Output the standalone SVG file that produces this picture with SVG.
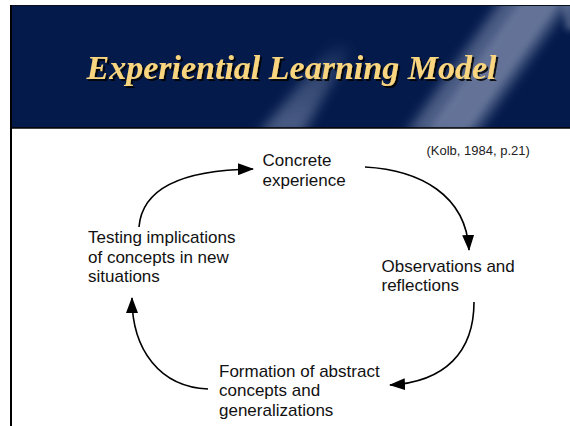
<svg xmlns="http://www.w3.org/2000/svg" width="570" height="426" viewBox="0 0 570 426">
  <style>
    .lbl { font-family: "Liberation Sans", Arial, Helvetica, sans-serif; font-size: 17px; fill: #111; }
    .cite { font-family: "Liberation Sans", Arial, Helvetica, sans-serif; font-size: 13px; fill: #222; }
    .title { font-family: "Liberation Serif", "Times New Roman", serif; font-size: 34px; font-weight: bold; font-style: italic; }
    .conn { fill: none; stroke: #000; stroke-width: 1.6; marker-end: url(#arrow); }
  </style>
  <defs>
    <marker id="arrow" viewBox="0 0 16 12" refX="15" refY="6" markerWidth="16" markerHeight="12" markerUnits="userSpaceOnUse" orient="auto">
      <path d="M0,0 L16,6 L0,12 Z" fill="#000"/>
    </marker>
    <clipPath id="bannerClip">
      <rect x="11" y="6" width="559" height="122"/>
    </clipPath>
    <filter id="blur" x="-50%" y="-50%" width="200%" height="200%">
      <feGaussianBlur stdDeviation="6"/>
    </filter>
    <filter id="blur2" x="-50%" y="-50%" width="200%" height="200%">
      <feGaussianBlur stdDeviation="3"/>
    </filter>
    <filter id="shadow" x="-10%" y="-30%" width="120%" height="160%">
      <feOffset in="SourceAlpha" dx="2" dy="2" result="off"/>
      <feFlood flood-color="#000" flood-opacity="0.85"/>
      <feComposite in2="off" operator="in" result="sh"/>
      <feMerge>
        <feMergeNode in="sh"/>
        <feMergeNode in="SourceGraphic"/>
      </feMerge>
    </filter>
    <linearGradient id="fade1" x1="0" y1="1" x2="0" y2="0">
      <stop offset="0" stop-color="#8a98b8" stop-opacity="0.55"/>
      <stop offset="0.6" stop-color="#8a98b8" stop-opacity="0.35"/>
      <stop offset="1" stop-color="#8a98b8" stop-opacity="0"/>
    </linearGradient>
  </defs>

  <!-- banner -->
  <g id="banner">
    <rect x="10" y="5" width="560" height="123" fill="#031a4b"/>
    <g clip-path="url(#bannerClip)">
      <polygon points="258,135 302,135 352,48 336,40" fill="url(#fade1)" filter="url(#blur)"/>
      <polygon points="405,135 475,135 575,-5 505,-5" fill="#8796b4" fill-opacity="0.55" filter="url(#blur)"/>
      <polygon points="425,135 465,135 565,-5 525,-5" fill="#8e9cb9" fill-opacity="0.35" filter="url(#blur2)"/>
      <polygon points="560,-5 580,-5 580,30 566,30" fill="#8796b4" fill-opacity="0.5" filter="url(#blur2)"/>
    </g>
    <line x1="10" y1="5.5" x2="570" y2="5.5" stroke="#0a0f20" stroke-width="1"/>
    <line x1="10" y1="128" x2="570" y2="128" stroke="#000" stroke-width="1.6"/>
    <text class="title" x="291.5" y="79" text-anchor="middle" fill="#f8d57e" filter="url(#shadow)">Experiential Learning Model</text>
  </g>

  <!-- left frame line -->
  <line x1="11" y1="5" x2="11" y2="426" stroke="#000" stroke-width="2"/>

  <g id="citation">
    <text class="cite" x="426.5" y="155">(Kolb, 1984, p.21)</text>
  </g>

  <g id="connectors">
    <path class="conn" d="M139,227 C142,190 180,170 253,169"/>
    <path class="conn" d="M365,167 C420,170 466,195 469,250"/>
    <path class="conn" d="M474,302 C474,352 445,382 390,385"/>
    <path class="conn" d="M208,389 C160,387 132,350 132,298"/>
  </g>

  <g id="node-concrete">
    <text class="lbl" x="262.5" y="166">Concrete</text>
    <text class="lbl" x="262.5" y="185.5">experience</text>
  </g>
  <g id="node-observations">
    <text class="lbl" x="381.5" y="271.5">Observations and</text>
    <text class="lbl" x="381.5" y="291">reflections</text>
  </g>
  <g id="node-formation">
    <text class="lbl" x="219" y="376.5">Formation of abstract</text>
    <text class="lbl" x="219" y="396">concepts and</text>
    <text class="lbl" x="219" y="415.5">generalizations</text>
  </g>
  <g id="node-testing">
    <text class="lbl" x="88" y="243">Testing implications</text>
    <text class="lbl" x="88" y="262.5">of concepts in new</text>
    <text class="lbl" x="88" y="282">situations</text>
  </g>
</svg>
